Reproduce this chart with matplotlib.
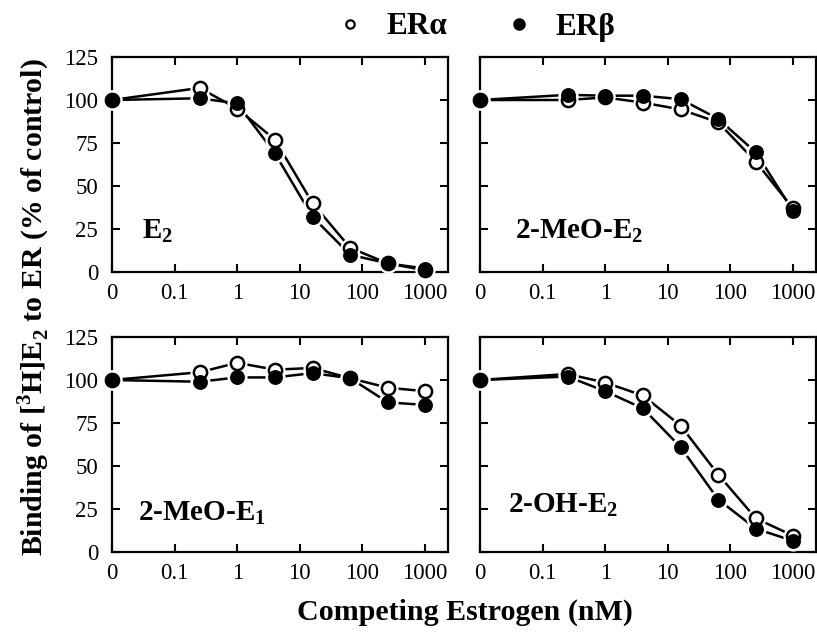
import matplotlib
matplotlib.use('Agg')
import matplotlib.pyplot as plt
from matplotlib.lines import Line2D

plt.rcParams['font.family'] = ['Liberation Serif', 'DejaVu Serif']
plt.rcParams['mathtext.fontset'] = 'custom'
plt.rcParams['mathtext.rm'] = 'Liberation Serif'
plt.rcParams['mathtext.bf'] = 'Liberation Serif:bold'

# concentraçoes (nM); o "0" fica desenhado em 0.01 no eixo log
conc = [0.01, 0.25, 1, 4, 16, 64, 256, 1000]
tick_pos = [0.01, 0.1, 1, 10, 100, 1000]
tick_lab = ['0', '0.1', '1', '10', '100', '1000']

e2_alpha = [100, 107, 95, 77, 40, 14, 5, 1]
e2_beta = [100, 101, 98, 69, 32, 10, 5, 2]
meoe2_alpha = [100, 100, 101.5, 98.5, 94.5, 87, 64, 37]
meoe2_beta = [100, 103, 102.5, 102.5, 100.5, 89, 69.5, 35.5]
meoe1_alpha = [100, 104.5, 110, 106, 107, 101, 95.5, 93.5]
meoe1_beta = [100, 99, 101.5, 101.5, 104, 101, 87, 85.5]
ohe2_alpha = [100, 103.5, 98.5, 91, 73.5, 45, 19.5, 9.5]
ohe2_beta = [100, 102, 93.5, 83.5, 61, 30.5, 13.5, 6.5]

paineis = [
    (r'E$_\mathbf{2}$', e2_alpha, e2_beta, (0.089, 0.158)),
    (r'2-MeO-E$_\mathbf{2}$', meoe2_alpha, meoe2_beta, (0.104, 0.158)),
    (r'2-MeO-E$_\mathbf{1}$', meoe1_alpha, meoe1_beta, (0.077, 0.149)),
    (r'2-OH-E$_\mathbf{2}$', ohe2_alpha, ohe2_beta, (0.083, 0.186)),
]

W, H = 817, 634
fig = plt.figure(figsize=(W / 100, H / 100), dpi=100)

# posicoes dos eixos em pixels (esquerda, topo)
caixas = [(112, 57), (480, 57), (112, 337), (480, 337)]
largura, altura = 336, 215

ms = 9.5
for i, (nome, alpha, beta, pos) in enumerate(paineis):
    x0, y0 = caixas[i]
    ax = fig.add_axes([x0 / W, 1 - (y0 + altura) / H, largura / W, altura / H])

    # linhas
    ax.plot(conc, alpha, '-', color='black', lw=1.8, zorder=2)
    ax.plot(conc, beta, '-', color='black', lw=1.8, zorder=2)
    # halo branco para abrir espaco entre linha e marcador
    ax.plot(conc, alpha, 'o', ls='none', ms=ms + 5, mfc='white', mec='none', zorder=3, clip_on=False)
    ax.plot(conc, beta, 'o', ls='none', ms=ms + 5, mfc='white', mec='none', zorder=3, clip_on=False)
    # marcadores
    ax.plot(conc, alpha, 'o', ls='none', ms=ms, mfc='white', mec='black', mew=1.8, zorder=4, clip_on=False)
    ax.plot(conc, beta, 'o', ls='none', ms=ms, mfc='black', mec='black', mew=1.2, zorder=5, clip_on=False)

    ax.set_xscale('log')
    ax.set_xlim(0.01, 2330)
    ax.set_ylim(0, 125)
    ax.set_xticks(tick_pos)
    ax.set_xticklabels(tick_lab)
    ax.minorticks_off()
    ax.set_yticks([0, 25, 50, 75, 100, 125])
    ax.tick_params(direction='in', top=True, right=True, length=6, width=1.5,
                   labelsize=16.5)
    ax.tick_params(axis='x', pad=8)
    ax.tick_params(axis='y', pad=10)
    if i % 2 == 1:
        ax.tick_params(labelleft=False)
    for s in ax.spines.values():
        s.set_linewidth(1.6)

    ax.text(pos[0], pos[1], nome, transform=ax.transAxes, fontsize=21,
            fontweight='bold', va='baseline', ha='left')

# legenda no topo
h_a = Line2D([], [], ls='none', marker='o', ms=6, mfc='white', mec='black', mew=1.6)
h_b = Line2D([], [], ls='none', marker='o', ms=8, mfc='black', mec='black')
fig.legend([h_a, h_b], ['ERα', 'ERβ'], loc='center', bbox_to_anchor=(475 / W, 1 - 27 / H),
           ncol=2, frameon=False, prop={'weight': 'bold', 'size': 22.5},
           handletextpad=0.66, columnspacing=1.8, handlelength=1.0)

fig.text(34 / W, 1 - 307 / H, r'Binding of [$^\mathbf{3}$H]E$_\mathbf{2}$ to ER (% of control)',
         rotation=90, ha='center', va='center', fontsize=21.5, fontweight='bold')
fig.text(465 / W, 1 - 612 / H, 'Competing Estrogen (nM)', ha='center', va='center',
         fontsize=21.6, fontweight='bold')

fig.savefig('out.png', dpi=100)
